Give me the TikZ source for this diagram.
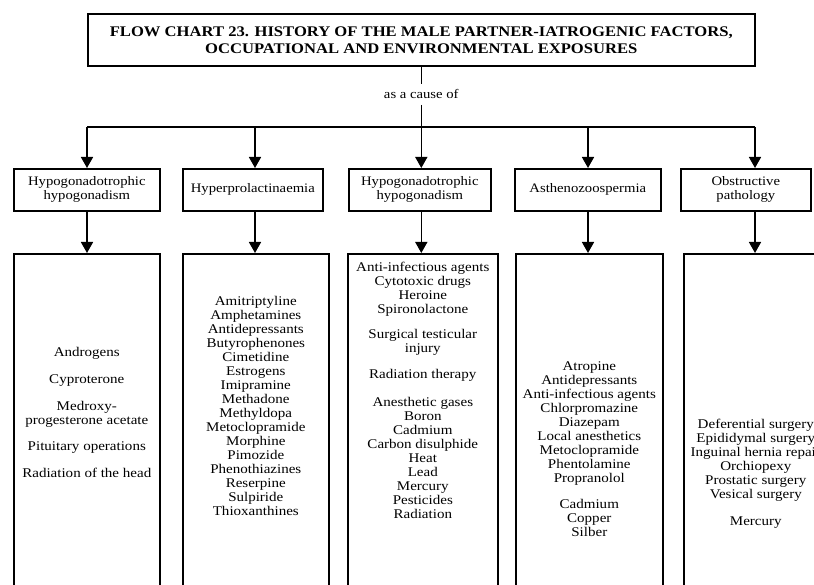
\documentclass[tikz,border=0pt]{standalone}
\usepackage{fontspec}
\setmainfont[FakeStretch=1.13]{Liberation Serif}
\usetikzlibrary{arrows.meta,positioning}
\tikzset{
  titlebox/.style={draw, line width=1.6pt, anchor=north west, align=center, inner sep=0pt,
    font=\bfseries\fontsize{14.7}{17}\selectfont},
  headbox/.style={draw, line width=1.6pt, anchor=north west, align=center, inner sep=0pt,
    minimum height=42pt, font=\fontsize{13}{14}\selectfont},
  listbox/.style={draw, line width=1.6pt, anchor=north west, inner sep=0pt, minimum height=360pt},
  listtext/.style={anchor=north, align=center, inner sep=0pt, font=\fontsize{13.3}{14}\selectfont},
  link/.style={line width=1.6pt},
  flow/.style={line width=1.6pt, -{Triangle[width=12pt,length=11pt]}}
}
\begin{document}
\begin{tikzpicture}[x=1pt,y=-1pt]
\useasboundingbox (0,0) rectangle (814,585);
\clip (0,0) rectangle (814,585);

% title and the line down to the bar
\node[titlebox, minimum width=667pt, minimum height=52pt] (title) at (87,13)
  {FLOW CHART 23. HISTORY OF THE MALE PARTNER-IATROGENIC FACTORS,\\
   OCCUPATIONAL AND ENVIRONMENTAL EXPOSURES};
\node[inner sep=0pt, font=\fontsize{13}{14}\selectfont] (cause) at (title.south |- 0,94) {as a cause of};

\coordinate (b1) at (87,127);
\coordinate (b2) at (255,127);
\coordinate (b3) at (title.south |- 0,127);
\coordinate (b4) at (588,127);
\coordinate (b5) at (755,127);

\draw[link] (title.south) -- ([yshift=5pt]cause.north);
\draw[link] ([yshift=-6pt]cause.south) -- (b3);
\draw[link] (b1) -- (b5);

% cause headings
\node[headbox, minimum width=146pt] (h1) at (13,168) {Hypogonadotrophic\\hypogonadism};
\node[headbox, minimum width=140pt] (h2) at (182,168) {Hyperprolactinaemia};
\node[headbox, minimum width=142pt] (h3) at (348,168) {Hypogonadotrophic\\hypogonadism};
\node[headbox, minimum width=146pt] (h4) at (514,168) {Asthenozoospermia};
\node[headbox, minimum width=130pt] (h5) at (680,168) {Obstructive\\pathology};

% list boxes, open at the bottom of the page
\node[listbox, minimum width=146pt] (l1) at (13,253) {};
\node[listbox, minimum width=146pt] (l2) at (182,253) {};
\node[listbox, minimum width=150pt] (l3) at (347,253) {};
\node[listbox, minimum width=147pt] (l4) at (515,253) {};
\node[listbox, minimum width=144pt] (l5) at (683,253) {};

\foreach \i in {1,...,5} {
  \draw[flow] (b\i) -- (b\i |- h\i.north);
  \draw[flow] (b\i |- h\i.south) -- (b\i |- l\i.north);
}

% factors
\node[listtext] (t1) at (l1.north |- 0,347) {Androgens\\[13pt]Cyproterone\\[13pt]Medroxy-\\progesterone acetate\\[12pt]
  Pituitary operations\\[13pt]Radiation of the head};
\node[listtext] (t2) at (l2.north |- 0,296) {Amitriptyline\\Amphetamines\\Antidepressants\\Butyrophenones\\
  Cimetidine\\Estrogens\\Imipramine\\Methadone\\Methyldopa\\Metoclopramide\\Morphine\\Pimozide\\
  Phenothiazines\\Reserpine\\Sulpiride\\Thioxanthines};
\node[listtext] (t3) at (l3.north |- 0,262) {Anti-infectious agents\\Cytotoxic drugs\\Heroine\\Spironolactone\\[11pt]
  Surgical testicular\\injury\\[12pt]Radiation therapy\\[14pt]Anesthetic gases\\Boron\\Cadmium\\
  Carbon disulphide\\Heat\\Lead\\Mercury\\Pesticides\\Radiation};
\node[listtext] (t4) at (l4.north |- 0,361) {Atropine\\Antidepressants\\Anti-infectious agents\\Chlorpromazine\\
  Diazepam\\Local anesthetics\\Metoclopramide\\Phentolamine\\Propranolol\\[12pt]Cadmium\\Copper\\Silber};
\node[listtext] (t5) at (l5.north |- 0,419) {Deferential surgery\\Epididymal surgery\\Inguinal hernia repair\\
  Orchiopexy\\Prostatic surgery\\Vesical surgery\\[13pt]Mercury};
\end{tikzpicture}
\end{document}
